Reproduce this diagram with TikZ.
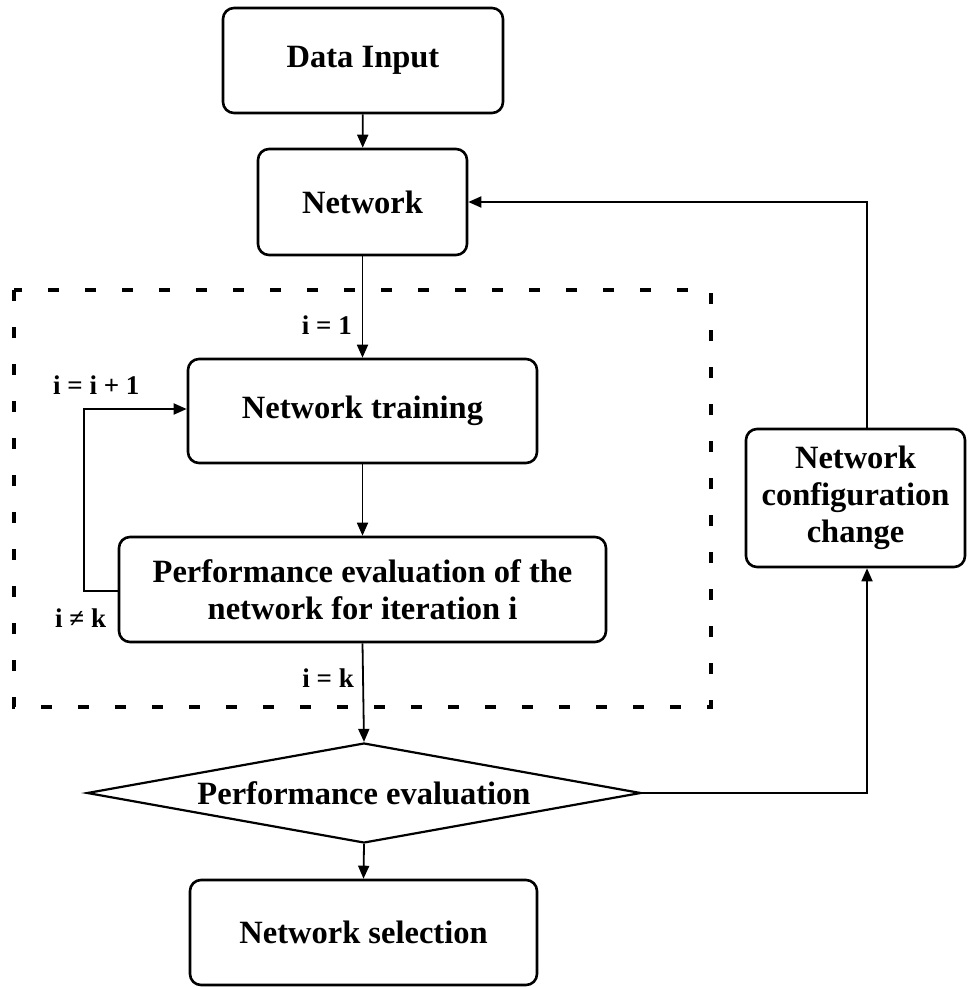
\documentclass[tikz,border=0pt]{standalone}
\usepackage{fontspec}
\setmainfont{Liberation Serif}
\usetikzlibrary{arrows.meta,shapes.geometric}
\begin{document}
\begin{tikzpicture}[x=1pt,y=-1pt,
  box/.style={draw,line width=2.6pt,rounded corners=11pt,align=center,inner sep=0pt,
    font=\fontsize{32.5}{37}\selectfont\bfseries},
  dia/.style={draw,diamond,line width=2.2pt,inner sep=0pt,aspect=5.54,
    font=\fontsize{32.5}{37}\selectfont\bfseries},
  conn/.style={line width=1.8pt,-{Triangle[length=13pt,width=11pt]}},
  lbl/.style={font=\fontsize{27}{30}\selectfont\bfseries,inner sep=0pt},
  dashbox/.style={line width=4pt,dash pattern=on 11pt off 26pt}]
\useasboundingbox (0,0) rectangle (979,987);
\draw[dashbox,dash phase=0pt] (14,290) rectangle (711,707);
\node[box,minimum width=280pt,minimum height=105pt] (data) at (363,60.5) {Data Input};
\node[box,minimum width=209pt,minimum height=106pt] (net) at (362.5,202) {Network};
\node[box,minimum width=349pt,minimum height=104pt] (train) at (362.5,411) {Network training};
\node[box,minimum width=487pt,minimum height=105pt] (perf) at (362.5,589.5) {Performance evaluation of the\\network for iteration i};
\node[dia,minimum width=554pt,minimum height=100pt] (peval) at (364,793) {Performance evaluation};
\node[box,minimum width=347pt,minimum height=105pt] (sel) at (363.5,932.5) {Network selection};
\node[box,minimum width=219pt,minimum height=138pt] (cfg) at (855.5,498) {Network\\configuration\\change};
\coordinate (rl) at (867,793);
\coordinate (ll) at (84,591);
\draw[conn] (data) -- (net);
\draw[conn] (net.south) -- (train.north);
\draw[conn] (train) -- (perf);
\draw[conn] (perf.south) -- (peval.north);
\draw[conn] (peval.south) -- (sel.north);
\draw[conn] (peval.east) -- (rl) -- (rl |- cfg.south);
\draw[conn] (rl |- cfg.north) |- (net.east);
\draw[conn] (perf.west |- ll) -- (ll) |- ([yshift=2pt]train.west);
\node[lbl,anchor=east] (l1) at (352,325) {i = 1};
\node[lbl,anchor=west] (l2) at (53,385) {i = i + 1};
\node[lbl,anchor=west] (l3) at (55,618) {i ≠ k};
\node[lbl,anchor=east] (l4) at (354,678) {i = k};
\end{tikzpicture}
\end{document}
